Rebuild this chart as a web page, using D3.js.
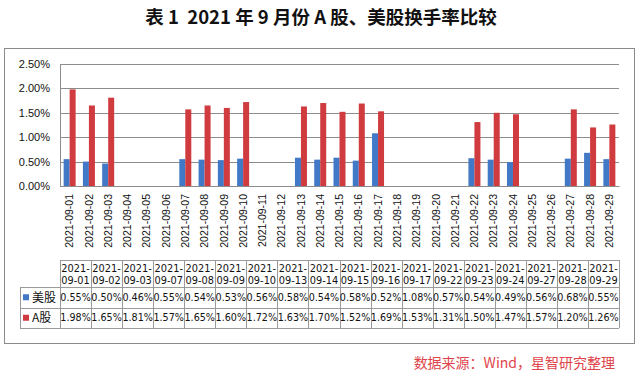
<!DOCTYPE html>
<html>
<head>
<meta charset="utf-8">
<script src="https://cdn.jsdelivr.net/npm/d3@7"></script>
<style>
  body { margin: 0; background: #fff; }
  text { font-family: "Liberation Sans", Arial, sans-serif; fill: #111; }
</style>
</head>
<body>
<div id="chart"></div>
<script>
// all calendar days shown on the x axis
const allDays = ["2021-09-01","2021-09-02","2021-09-03","2021-09-04","2021-09-05","2021-09-06",
  "2021-09-07","2021-09-08","2021-09-09","2021-09-10","2021-09-11","2021-09-12","2021-09-13",
  "2021-09-14","2021-09-15","2021-09-16","2021-09-17","2021-09-18","2021-09-19","2021-09-20",
  "2021-09-21","2021-09-22","2021-09-23","2021-09-24","2021-09-25","2021-09-26","2021-09-27",
  "2021-09-28","2021-09-29"];
// trading days (table columns)
const tradeDays = ["2021-09-01","2021-09-02","2021-09-03","2021-09-07","2021-09-08","2021-09-09",
  "2021-09-10","2021-09-13","2021-09-14","2021-09-15","2021-09-16","2021-09-17","2021-09-22",
  "2021-09-23","2021-09-24","2021-09-27","2021-09-28","2021-09-29"];
const usRate = [0.55,0.50,0.46,0.55,0.54,0.53,0.56,0.58,0.54,0.58,0.52,1.08,0.57,0.54,0.49,0.56,0.68,0.55];
const aRate  = [1.98,1.65,1.81,1.57,1.65,1.60,1.72,1.63,1.70,1.52,1.69,1.53,1.31,1.50,1.47,1.57,1.20,1.26];
const seriesNames = ["美股", "A股"];
const colors = ["#4179c6", "#cf3b3f"];
const yTicks = [0, 0.5, 1, 1.5, 2, 2.5];

const W = 640, H = 378;
const svg = d3.select("#chart").append("svg").attr("width", W).attr("height", H);

// title
svg.append("text")
  .attr("x", 321).attr("y", 24)
  .attr("text-anchor", "middle")
  .attr("xml:space", "preserve")
  .style("white-space", "pre")
  .style("font-family", "'Noto Sans CJK SC', sans-serif")
  .style("font-weight", "bold").style("font-size", "18.5px")
  .text("表 1  2021 年 9 月份 A 股、美股换手率比较");

// outer frame
svg.append("rect")
  .attr("x", 4.5).attr("y", 48.5).attr("width", 630).attr("height", 295)
  .attr("fill", "none").attr("stroke", "#8a8a8a");

const plot = {left: 60, right: 619, top: 64, bottom: 186};

const x = d3.scaleBand().domain(allDays).range([plot.left, plot.right]);
const y = d3.scaleLinear().domain([0, 2.5]).range([plot.bottom, plot.top]);

// gridlines
svg.append("g").selectAll("line")
  .data(yTicks).enter().append("line")
  .attr("x1", plot.left).attr("x2", plot.right)
  .attr("y1", d => Math.round(y(d)) + 0.5).attr("y2", d => Math.round(y(d)) + 0.5)
  .attr("stroke", "#8c8c8c");

// y axis
const yAxis = svg.append("g")
  .attr("transform", "translate(" + plot.left + ",0)")
  .call(d3.axisLeft(y).tickValues(yTicks).tickSize(0).tickPadding(10)
    .tickFormat(d => d.toFixed(2) + "%"));
yAxis.select(".domain").attr("stroke", "#8c8c8c");
yAxis.selectAll("text").style("font-size", "11px").style("fill", "#111");

// bars
const bw = 6;
const barData = [];
tradeDays.forEach((d, i) => {
  barData.push({day: d, s: 0, v: usRate[i]});
  barData.push({day: d, s: 1, v: aRate[i]});
});
svg.append("g").selectAll("rect")
  .data(barData).enter().append("rect")
  .attr("x", d => x(d.day) + x.bandwidth() / 2 - bw + d.s * bw)
  .attr("width", bw)
  .attr("y", d => y(d.v))
  .attr("height", d => y(0) - y(d.v))
  .attr("fill", d => colors[d.s]);

// x axis
const xAxis = svg.append("g")
  .attr("transform", "translate(0," + plot.bottom + ")")
  .call(d3.axisBottom(x).tickSize(0).tickPadding(0));
xAxis.select(".domain").attr("stroke", "#8c8c8c");
xAxis.selectAll("text")
  .style("font-size", "10.5px").style("fill", "#111")
  .attr("text-anchor", "end")
  .attr("transform", "rotate(-90)")
  .attr("x", -8).attr("y", 0).attr("dy", "0.35em");

// data table
const tTop = 260, hRow = 27, row = 20.5;
const colW = (plot.right - plot.left) / tradeDays.length;
const leftCol = 20;
const table = svg.append("g");
const gridColor = "#9a9a9a";

// horizontal lines
[[plot.left, tTop], [leftCol, tTop + hRow], [leftCol, tTop + hRow + row], [leftCol, tTop + hRow + 2 * row]]
  .forEach(([x0, yy]) => {
    table.append("line").attr("x1", x0).attr("x2", plot.right)
      .attr("y1", Math.round(yy) + 0.5).attr("y2", Math.round(yy) + 0.5)
      .attr("stroke", gridColor);
  });
// vertical lines
table.append("line").attr("x1", leftCol + 0.5).attr("x2", leftCol + 0.5)
  .attr("y1", tTop + hRow).attr("y2", tTop + hRow + 2 * row).attr("stroke", gridColor);
d3.range(tradeDays.length + 1).forEach(i => {
  const xx = Math.round(plot.left + i * colW) + 0.5;
  table.append("line").attr("x1", xx).attr("x2", xx)
    .attr("y1", tTop).attr("y2", tTop + hRow + 2 * row).attr("stroke", gridColor);
});

// header
tradeDays.forEach((d, i) => {
  const cx = plot.left + (i + 0.5) * colW;
  const t = table.append("text").attr("x", cx).attr("text-anchor", "middle")
    .style("font-family", "'DejaVu Sans', sans-serif").style("font-size", "9.8px");
  t.append("tspan").attr("x", cx).attr("y", tTop + 11.5).text(d.slice(0, 5));
  t.append("tspan").attr("x", cx).attr("y", tTop + 23.5).text(d.slice(5));
});

// value rows
[usRate, aRate].forEach((vals, s) => {
  const yy = tTop + hRow + s * row + row / 2;
  table.append("rect").attr("x", 23).attr("y", yy - 3).attr("width", 6).attr("height", 6)
    .attr("fill", colors[s]);
  table.append("text").attr("x", 32).attr("y", yy).attr("dy", "0.36em")
    .style("font-family", "'Noto Sans CJK SC', sans-serif").style("font-size", "12px")
    .text(seriesNames[s]);
  vals.forEach((v, i) => {
    table.append("text")
      .attr("x", plot.left + (i + 0.5) * colW).attr("y", yy).attr("dy", "0.36em")
      .attr("text-anchor", "middle")
      .style("font-family", "'DejaVu Sans', sans-serif").style("font-size", "9.6px")
      .text(v.toFixed(2) + "%");
  });
});

// source note
svg.append("text")
  .attr("x", 615).attr("y", 368)
  .attr("text-anchor", "end")
  .style("font-family", "'Noto Sans CJK SC', sans-serif").style("font-size", "14px")
  .style("fill", "#e0434a")
  .text("数据来源：Wind，星智研究整理");
</script>
</body>
</html>
